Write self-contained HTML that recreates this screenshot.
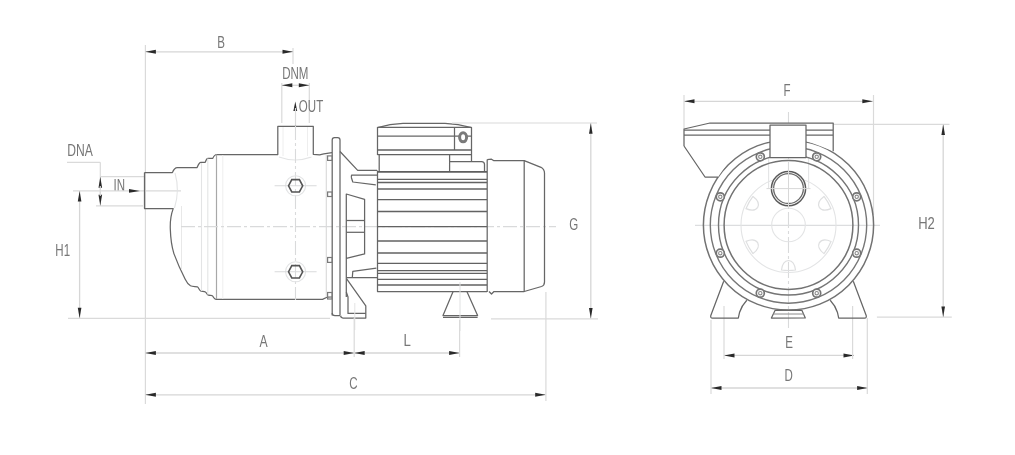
<!DOCTYPE html>
<html><head><meta charset="utf-8"><style>
html,body{margin:0;padding:0;background:#fff;width:1015px;height:455px;overflow:hidden}
svg{display:block}
text{font-family:"Liberation Sans",sans-serif}
</style></head><body>
<svg width="1015" height="455" viewBox="0 0 1015 455">
<rect width="1015" height="455" fill="#fff"/>
<g filter="url(#bl)">
<line x1="145.4" y1="45" x2="145.4" y2="404" stroke="#dadada" stroke-width="1.2" fill="none"/>
<line x1="145.4" y1="51.8" x2="293" y2="51.8" stroke="#d6d6d6" stroke-width="1.3" fill="none"/>
<line x1="293" y1="48" x2="293" y2="64" stroke="#dadada" stroke-width="1.2" fill="none"/>
<polygon points="145.4,51.8 155.9,49.8 155.9,53.8" fill="#2a2a2a"/>
<polygon points="293.0,51.8 282.5,49.8 282.5,53.8" fill="#2a2a2a"/>
<text x="0" y="0" transform="translate(221,47.5) scale(0.7,1)" font-size="16.5" fill="#777777" text-anchor="middle" font-family="&quot;Liberation Sans&quot;, sans-serif">B</text>
<text x="0" y="0" transform="translate(295.3,78.6) scale(0.7,1)" font-size="16.5" fill="#777777" text-anchor="middle" font-family="&quot;Liberation Sans&quot;, sans-serif">DNM</text>
<line x1="281.8" y1="83" x2="281.8" y2="123" stroke="#dadada" stroke-width="1.2" fill="none"/>
<line x1="309.3" y1="83" x2="309.3" y2="123" stroke="#dadada" stroke-width="1.2" fill="none"/>
<line x1="281.8" y1="85.3" x2="309.3" y2="85.3" stroke="#d6d6d6" stroke-width="1.3" fill="none"/>
<polygon points="281.8,85.3 292.3,83.3 292.3,87.3" fill="#2a2a2a"/>
<polygon points="309.3,85.3 298.8,83.3 298.8,87.3" fill="#2a2a2a"/>
<polygon points="295.3,101.5 293.4,111.0 297.2,111.0" fill="#2a2a2a"/>
<text x="0" y="0" transform="translate(311,112.4) scale(0.7,1)" font-size="16.5" fill="#777777" text-anchor="middle" font-family="&quot;Liberation Sans&quot;, sans-serif">OUT</text>
<line x1="295.5" y1="108" x2="295.5" y2="126" stroke="#dadada" stroke-width="1.2" fill="none"/>
<text x="0" y="0" transform="translate(80,156) scale(0.735,1)" font-size="16.5" fill="#777777" text-anchor="middle" font-family="&quot;Liberation Sans&quot;, sans-serif">DNA</text>
<line x1="67" y1="162.3" x2="100.3" y2="162.3" stroke="#dadada" stroke-width="1.2" fill="none"/>
<line x1="100.3" y1="162.3" x2="100.3" y2="206" stroke="#dadada" stroke-width="1.2" fill="none"/>
<line x1="100.3" y1="176.7" x2="145" y2="176.7" stroke="#dadada" stroke-width="1.2" fill="none"/>
<line x1="96" y1="205.8" x2="143" y2="205.8" stroke="#dadada" stroke-width="1.2" fill="none"/>
<polygon points="100.3,176.7 98.5,187.7 102.1,187.7" fill="#2a2a2a"/>
<polygon points="100.3,205.8 98.5,194.8 102.1,194.8" fill="#2a2a2a"/>
<line x1="100.3" y1="186" x2="100.3" y2="196" stroke="#dadada" stroke-width="1.2" fill="none"/>
<text x="0" y="0" transform="translate(119.2,190.6) scale(0.7,1)" font-size="16.5" fill="#777777" text-anchor="middle" font-family="&quot;Liberation Sans&quot;, sans-serif">IN</text>
<line x1="73" y1="190.9" x2="181" y2="190.9" stroke="#dadada" stroke-width="1.2" fill="none"/>
<polygon points="140.0,190.9 129.0,189.1 129.0,192.7" fill="#2a2a2a"/>
<line x1="79.6" y1="190.9" x2="79.6" y2="318.2" stroke="#d6d6d6" stroke-width="1.3" fill="none"/>
<polygon points="79.6,190.9 77.8,201.4 81.4,201.4" fill="#2a2a2a"/>
<polygon points="79.6,318.2 77.8,307.7 81.4,307.7" fill="#2a2a2a"/>
<text x="0" y="0" transform="translate(62.7,255.6) scale(0.7,1)" font-size="16.5" fill="#777777" text-anchor="middle" font-family="&quot;Liberation Sans&quot;, sans-serif">H1</text>
<line x1="68" y1="318.3" x2="330" y2="318.3" stroke="#dadada" stroke-width="1.2" fill="none"/>
<path d="M144.5,172.6 H172.4 Q174.2,167.5 177.4,167.5 H197.1 Q199.2,162.4 200.9,162.4 H205.2 Q206.5,158.4 208,158.4 H212.8 Q214.2,154.6 217,154.5 H277.8 V126.4 H313.3 V154.3 L319.6,154.9 L323.8,153.8 L332,152.6" stroke="#666666" stroke-width="1.25" fill="none" stroke-linejoin="round"/>
<path d="M144.5,172.6 V208.6 H173.2 C171.2,214 170,221 170.3,229 C170.6,238 171.5,246 173.9,253.6 C177,262 181,271 185.2,279.2 C186.8,282.5 188.5,284.6 190.5,285.8 C192.5,286.8 195.5,286.4 197.3,286.8 C198.8,287.5 199,290.3 200.6,291 C202,291.6 204,291.2 205.4,292 C206.8,292.8 207,294.8 208.5,295.2 C210,295.6 211.8,295.2 212.5,295.9 C213.6,297 214,299.3 216,299.4 H322.5 L327,297.2 L332,297" stroke="#666666" stroke-width="1.25" fill="none" stroke-linejoin="round"/>
<line x1="216.5" y1="154.5" x2="216.5" y2="299" stroke="#a8a8a8" stroke-width="1.2"/>
<line x1="201.5" y1="163" x2="201.5" y2="291" stroke="#e3e4e5" stroke-width="1.1" fill="none"/>
<line x1="207.8" y1="158.5" x2="207.8" y2="294.5" stroke="#e3e4e5" stroke-width="1.1" fill="none"/>
<line x1="222.8" y1="155" x2="222.8" y2="299" stroke="#eeeeee" stroke-width="1"/>
<line x1="181.5" y1="206" x2="181.5" y2="270" stroke="#e8e8e8" stroke-width="1"/>
<line x1="326.3" y1="155" x2="326.3" y2="297" stroke="#d8d8d8" stroke-width="1.1"/>
<path d="M175,173 Q180,190.5 174.5,208" stroke="#e3e4e5" stroke-width="1.1" fill="none"/>
<path d="M279,157 Q295.5,163 311.5,157" stroke="#e3e4e5" stroke-width="1.1" fill="none"/>
<line x1="283" y1="127" x2="283" y2="156" stroke="#eeeeee" stroke-width="1"/>
<line x1="307.5" y1="127" x2="307.5" y2="156" stroke="#eeeeee" stroke-width="1"/>
<line x1="181" y1="226.6" x2="556" y2="226.6" stroke="#d9dadb" stroke-width="1.1" fill="none" stroke-dasharray="14 3 3 3"/>
<line x1="295.5" y1="126" x2="295.5" y2="300" stroke="#d9dadb" stroke-width="1.1" fill="none" stroke-dasharray="14 3 3 3"/>
<circle cx="295.6" cy="185.8" r="10" stroke="#e3e4e5" stroke-width="1.1" fill="none"/>
<line x1="274.6" y1="185.8" x2="316.6" y2="185.8" stroke="#d9dadb" stroke-width="1.1"/>
<polygon points="288.5,185.8 291.8,179.6 299.4,179.6 302.7,185.8 299.4,192.0 291.8,192.0" stroke="#555" stroke-width="1.6" fill="none"/>
<circle cx="295.6" cy="271.8" r="10" stroke="#e3e4e5" stroke-width="1.1" fill="none"/>
<line x1="274.6" y1="271.8" x2="316.6" y2="271.8" stroke="#d9dadb" stroke-width="1.1"/>
<polygon points="288.5,271.8 291.8,265.6 299.4,265.6 302.7,271.8 299.4,278.0 291.8,278.0" stroke="#555" stroke-width="1.6" fill="none"/>
<path d="M332.2,315.6 V140 Q332.2,137.7 334.5,137.7 H337.7 Q340,137.7 340,140 V315" stroke="#666666" stroke-width="1.25" fill="none" stroke-linejoin="round"/>
<path d="M332.2,313 Q332.2,315.6 335,315.6 H340" stroke="#666666" stroke-width="1.25" fill="none" stroke-linejoin="round"/>
<rect x="327.6" y="155.9" width="4.6" height="4.5" stroke="#7a7a7a" stroke-width="1.2" fill="none"/>
<rect x="327.6" y="192" width="4.6" height="4.5" stroke="#7a7a7a" stroke-width="1.2" fill="none"/>
<rect x="327.6" y="257.5" width="4.6" height="4.899999999999977" stroke="#7a7a7a" stroke-width="1.2" fill="none"/>
<rect x="327.6" y="292.5" width="4.6" height="6.5" stroke="#7a7a7a" stroke-width="1.2" fill="none"/>
<path d="M340,151.5 L357.7,170.4 H377" stroke="#666666" stroke-width="1.25" fill="none" stroke-linejoin="round"/>
<path d="M377,175 H351.8 Q351,176 351.5,178 L352.8,182 L375.8,184.8" stroke="#666666" stroke-width="1.25" fill="none" stroke-linejoin="round"/>
<path d="M346.3,296.9 V194 L364.6,199.3 V253.9 L346.3,258.3" stroke="#666666" stroke-width="1.25" fill="none" stroke-linejoin="round"/>
<line x1="346.3" y1="220.5" x2="364.6" y2="220.5" stroke="#666666" stroke-width="1.25" fill="none" stroke-linejoin="round"/>
<line x1="346.3" y1="232.3" x2="364.6" y2="232.3" stroke="#666666" stroke-width="1.25" fill="none" stroke-linejoin="round"/>
<path d="M346.3,277.5 H377 M352.3,277.5 L352.8,271.4 L376.4,268.1" stroke="#666666" stroke-width="1.25" fill="none" stroke-linejoin="round"/>
<path d="M346.5,278.7 L365.8,305.8 V318 H343 Q340.6,318 340.6,315.6" stroke="#666666" stroke-width="1.25" fill="none" stroke-linejoin="round"/>
<path d="M346.3,292 L348,297 V313.4 H365.8" stroke="#666666" stroke-width="1.25" fill="none" stroke-linejoin="round"/>
<line x1="354.8" y1="303" x2="354.8" y2="330" stroke="#e4e4e4" stroke-width="1"/>
<path d="M377.5,127.6 Q390,124 403,123.4 H445 Q458,124 471.5,127.6 V161.2" stroke="#666666" stroke-width="1.25" fill="none" stroke-linejoin="round"/>
<line x1="377.5" y1="127.3" x2="471.5" y2="127.3" stroke="#666666" stroke-width="1.25" fill="none" stroke-linejoin="round"/>
<line x1="377.5" y1="136.2" x2="471.5" y2="136.2" stroke="#666666" stroke-width="1.25" fill="none" stroke-linejoin="round"/>
<line x1="377.5" y1="127" x2="377.5" y2="155" stroke="#666666" stroke-width="1.25" fill="none" stroke-linejoin="round"/>
<line x1="454.5" y1="127.3" x2="454.5" y2="150" stroke="#666666" stroke-width="1.25" fill="none" stroke-linejoin="round"/>
<line x1="377.5" y1="150" x2="471.5" y2="150" stroke="#626262" stroke-width="1.3" fill="none"/>
<line x1="377.5" y1="154.6" x2="471.5" y2="154.6" stroke="#626262" stroke-width="1.3" fill="none"/>
<path d="M379.2,155 V171 M449.6,155 V171 M449.6,161.5 H481.5 Q484.5,161.5 484.5,164.5 V171.5" stroke="#666666" stroke-width="1.25" fill="none" stroke-linejoin="round"/>
<ellipse cx="463.1" cy="137.3" rx="3.5" ry="4.5" stroke="#7a7a7a" stroke-width="3" fill="#fff"/>
<path d="M377.5,170.4 V291.6 H487" stroke="#666666" stroke-width="1.25" fill="none" stroke-linejoin="round"/>
<line x1="377.5" y1="171.9" x2="487" y2="171.9" stroke="#5e5e5e" stroke-width="1.9"/>
<line x1="377.5" y1="179.4" x2="487" y2="179.4" stroke="#626262" stroke-width="1.3" fill="none"/>
<line x1="377.5" y1="182.5" x2="487" y2="182.5" stroke="#626262" stroke-width="1.3" fill="none"/>
<line x1="377.5" y1="189" x2="487" y2="189" stroke="#626262" stroke-width="1.3" fill="none"/>
<line x1="377.5" y1="199.6" x2="487" y2="199.6" stroke="#626262" stroke-width="1.3" fill="none"/>
<line x1="377.5" y1="211.5" x2="487" y2="211.5" stroke="#626262" stroke-width="1.3" fill="none"/>
<line x1="377.5" y1="226.7" x2="487" y2="226.7" stroke="#626262" stroke-width="1.3" fill="none"/>
<line x1="377.5" y1="241" x2="487" y2="241" stroke="#626262" stroke-width="1.3" fill="none"/>
<line x1="377.5" y1="253" x2="487" y2="253" stroke="#626262" stroke-width="1.3" fill="none"/>
<line x1="377.5" y1="263.4" x2="487" y2="263.4" stroke="#626262" stroke-width="1.3" fill="none"/>
<line x1="377.5" y1="270.6" x2="487" y2="270.6" stroke="#626262" stroke-width="1.3" fill="none"/>
<line x1="377.5" y1="273.4" x2="487" y2="273.4" stroke="#626262" stroke-width="1.3" fill="none"/>
<line x1="377.5" y1="279.4" x2="487" y2="279.4" stroke="#626262" stroke-width="1.3" fill="none"/>
<line x1="377.5" y1="285" x2="487" y2="285" stroke="#626262" stroke-width="1.3" fill="none"/>
<line x1="487.2" y1="159.5" x2="487.2" y2="292" stroke="#666666" stroke-width="1.25" fill="none" stroke-linejoin="round"/>
<path d="M487.2,159.6 L491.5,159.2 L493.5,160.6 H524.2 L541,167.3 Q544.5,169.5 544.5,173 V282 Q544.5,285.5 541.5,286.5 L524.2,291.5 H494 L491.5,294 L489,291.5" stroke="#666666" stroke-width="1.25" fill="none" stroke-linejoin="round"/>
<line x1="524.2" y1="160.6" x2="524.2" y2="291.5" stroke="#666666" stroke-width="1.25" fill="none" stroke-linejoin="round"/>
<path d="M453,291.8 L443,315.6 H477.6 L467,291.8" stroke="#666666" stroke-width="1.25" fill="none" stroke-linejoin="round"/>
<line x1="443" y1="317.3" x2="477.6" y2="317.3" stroke="#666666" stroke-width="1.25" fill="none" stroke-linejoin="round"/>
<line x1="460" y1="282" x2="460" y2="331" stroke="#e0e1e2" stroke-width="1"/>
<line x1="452" y1="123.0" x2="597" y2="123.0" stroke="#dadada" stroke-width="1.2" fill="none"/>
<line x1="491" y1="318.8" x2="598" y2="318.8" stroke="#dadada" stroke-width="1.2" fill="none"/>
<line x1="590.8" y1="123" x2="590.8" y2="318.6" stroke="#d6d6d6" stroke-width="1.3" fill="none"/>
<polygon points="590.8,123.2 589.0,133.7 592.6,133.7" fill="#2a2a2a"/>
<polygon points="590.8,318.6 589.0,308.1 592.6,308.1" fill="#2a2a2a"/>
<text x="0" y="0" transform="translate(573.8,230) scale(0.7,1)" font-size="16.5" fill="#777777" text-anchor="middle" font-family="&quot;Liberation Sans&quot;, sans-serif">G</text>
<line x1="145.4" y1="353.0" x2="459.6" y2="353.0" stroke="#d6d6d6" stroke-width="1.3" fill="none"/>
<polygon points="145.4,353.0 155.9,351.0 155.9,355.0" fill="#2a2a2a"/>
<polygon points="354.2,353.0 343.7,351.0 343.7,355.0" fill="#2a2a2a"/>
<polygon points="354.2,353.0 364.7,351.0 364.7,355.0" fill="#2a2a2a"/>
<polygon points="459.6,353.0 449.1,351.0 449.1,355.0" fill="#2a2a2a"/>
<line x1="354.2" y1="318" x2="354.2" y2="357" stroke="#dadada" stroke-width="1.2" fill="none"/>
<line x1="459.6" y1="320" x2="459.6" y2="357" stroke="#dadada" stroke-width="1.2" fill="none"/>
<text x="0" y="0" transform="translate(263.6,346.7) scale(0.74,1)" font-size="16.5" fill="#777777" text-anchor="middle" font-family="&quot;Liberation Sans&quot;, sans-serif">A</text>
<text x="0" y="0" transform="translate(407.2,345.6) scale(0.8,1)" font-size="16.5" fill="#777777" text-anchor="middle" font-family="&quot;Liberation Sans&quot;, sans-serif">L</text>
<line x1="145.4" y1="394.8" x2="545.7" y2="394.8" stroke="#d6d6d6" stroke-width="1.3" fill="none"/>
<polygon points="145.4,394.8 155.9,392.8 155.9,396.8" fill="#2a2a2a"/>
<polygon points="545.7,394.8 535.2,392.8 535.2,396.8" fill="#2a2a2a"/>
<line x1="545.9" y1="292" x2="545.9" y2="401" stroke="#dadada" stroke-width="1.2" fill="none"/>
<text x="0" y="0" transform="translate(353.4,389.2) scale(0.7,1)" font-size="16.5" fill="#777777" text-anchor="middle" font-family="&quot;Liberation Sans&quot;, sans-serif">C</text>
<line x1="684" y1="101.3" x2="872.8" y2="101.3" stroke="#d6d6d6" stroke-width="1.3" fill="none"/>
<polygon points="684.0,101.3 694.5,99.3 694.5,103.3" fill="#2a2a2a"/>
<polygon points="872.8,101.3 862.3,99.3 862.3,103.3" fill="#2a2a2a"/>
<line x1="684" y1="95" x2="684" y2="129" stroke="#dadada" stroke-width="1.2" fill="none"/>
<line x1="873.5" y1="95" x2="873.5" y2="215" stroke="#dadada" stroke-width="1.2" fill="none"/>
<text x="0" y="0" transform="translate(787,95.6) scale(0.7,1)" font-size="16.5" fill="#777777" text-anchor="middle" font-family="&quot;Liberation Sans&quot;, sans-serif">F</text>
<line x1="833" y1="124.3" x2="949.5" y2="124.3" stroke="#dadada" stroke-width="1.2" fill="none"/>
<line x1="876.9" y1="317.1" x2="951.8" y2="317.1" stroke="#dadada" stroke-width="1.2" fill="none"/>
<line x1="943.2" y1="124.5" x2="943.2" y2="317" stroke="#d6d6d6" stroke-width="1.3" fill="none"/>
<polygon points="943.2,124.5 941.4,135.0 945.0,135.0" fill="#2a2a2a"/>
<polygon points="943.2,317.0 941.4,306.5 945.0,306.5" fill="#2a2a2a"/>
<text x="0" y="0" transform="translate(926.5,228.7) scale(0.79,1)" font-size="16.5" fill="#777777" text-anchor="middle" font-family="&quot;Liberation Sans&quot;, sans-serif">H2</text>
<line x1="724" y1="355.4" x2="854" y2="355.4" stroke="#d6d6d6" stroke-width="1.3" fill="none"/>
<polygon points="724.0,355.4 734.5,353.4 734.5,357.4" fill="#2a2a2a"/>
<polygon points="854.0,355.4 843.5,353.4 843.5,357.4" fill="#2a2a2a"/>
<line x1="724" y1="306" x2="724" y2="359" stroke="#dadada" stroke-width="1.2" fill="none"/>
<line x1="852.6" y1="306" x2="852.6" y2="359" stroke="#dadada" stroke-width="1.2" fill="none"/>
<text x="0" y="0" transform="translate(789,348) scale(0.7,1)" font-size="16.5" fill="#777777" text-anchor="middle" font-family="&quot;Liberation Sans&quot;, sans-serif">E</text>
<line x1="711" y1="388" x2="867.6" y2="388" stroke="#d6d6d6" stroke-width="1.3" fill="none"/>
<polygon points="711.0,388.0 721.5,386.0 721.5,390.0" fill="#2a2a2a"/>
<polygon points="867.6,388.0 857.1,386.0 857.1,390.0" fill="#2a2a2a"/>
<line x1="711" y1="320" x2="711" y2="394" stroke="#dadada" stroke-width="1.2" fill="none"/>
<line x1="867.3" y1="318" x2="867.3" y2="394" stroke="#dadada" stroke-width="1.2" fill="none"/>
<text x="0" y="0" transform="translate(788.7,381.2) scale(0.7,1)" font-size="16.5" fill="#777777" text-anchor="middle" font-family="&quot;Liberation Sans&quot;, sans-serif">D</text>
<line x1="788.5" y1="112" x2="788.5" y2="330" stroke="#d9dadb" stroke-width="1.1" stroke-dasharray="16 3 3 3"/>
<line x1="695" y1="225.4" x2="880" y2="225.4" stroke="#dcdddf" stroke-width="1.2"/>
<circle cx="788.5" cy="225.0" r="47.5" stroke="#e3e4e5" stroke-width="1.1" fill="none"/>
<circle cx="788.5" cy="225.0" r="16.8" stroke="#e3e4e5" stroke-width="1.1" fill="none"/>
<line x1="768.6" y1="157" x2="768.6" y2="188" stroke="#e3e4e5" stroke-width="1.1" fill="none"/>
<line x1="808.6" y1="157" x2="808.6" y2="188" stroke="#e3e4e5" stroke-width="1.1" fill="none"/>
<path transform="translate(753.4,204.8) rotate(-60)" d="M-7,-4.5 Q0,-5.5 7,-4.5 Q6,4.5 0,5 Q-6,4.5 -7,-4.5 Z" stroke="#dedfe0" stroke-width="1.2" fill="none"/>
<path transform="translate(823.6,204.8) rotate(60)" d="M-7,-4.5 Q0,-5.5 7,-4.5 Q6,4.5 0,5 Q-6,4.5 -7,-4.5 Z" stroke="#dedfe0" stroke-width="1.2" fill="none"/>
<path transform="translate(753.4,245.2) rotate(-120)" d="M-7,-4.5 Q0,-5.5 7,-4.5 Q6,4.5 0,5 Q-6,4.5 -7,-4.5 Z" stroke="#dedfe0" stroke-width="1.2" fill="none"/>
<path transform="translate(823.6,245.3) rotate(-240)" d="M-7,-4.5 Q0,-5.5 7,-4.5 Q6,4.5 0,5 Q-6,4.5 -7,-4.5 Z" stroke="#dedfe0" stroke-width="1.2" fill="none"/>
<path transform="translate(788.5,265.5) rotate(-180)" d="M-7,-4.5 Q0,-5.5 7,-4.5 Q6,4.5 0,5 Q-6,4.5 -7,-4.5 Z" stroke="#dedfe0" stroke-width="1.2" fill="none"/>
<path d="M723.7,281.2 L710.8,315.5 Q710.2,318.2 712.5,318.2 H738.3 L739.6,312.2 Q741.5,306 746.8,300.3" stroke="#666666" stroke-width="1.25" fill="none" stroke-linejoin="round"/>
<path d="M853.3,281.2 L866.2,315.5 Q866.8,318.2 864.5,318.2 H838.7 L837.4,312.2 Q835.5,306 830.2,300.3" stroke="#666666" stroke-width="1.25" fill="none" stroke-linejoin="round"/>
<path d="M771.4,318.1 L775,310.4 H802 L805.3,317.9 Z" stroke="#666666" stroke-width="1.25" fill="none" stroke-linejoin="round"/>
<line x1="773" y1="314" x2="804" y2="314" stroke="#8a8a8a" stroke-width="1"/>
<circle cx="788.5" cy="225.0" r="85.1" stroke="#727272" stroke-width="1.5" fill="none"/>
<circle cx="788.5" cy="225.0" r="78.2" stroke="#767676" stroke-width="1.4" fill="none"/>
<circle cx="788.5" cy="225.0" r="70" stroke="#747474" stroke-width="1.4" fill="none"/>
<circle cx="788.5" cy="225.0" r="64.4" stroke="#727272" stroke-width="1.5" fill="none"/>
<path d="M684,129 L710,123 H833.2 V151.3 L820,146 Q800,138 788.5,139.5 Q760,140 735,152 L718,177 H705 L684,146 Z" fill="#ffffff" stroke="none"/>
<path d="M684,146 V129 L710,123 H833.2 V151.3" stroke="#666666" stroke-width="1.25" fill="none" stroke-linejoin="round"/>
<path d="M684,146 L705,177 H718" stroke="#666666" stroke-width="1.25" fill="none" stroke-linejoin="round"/>
<line x1="684" y1="130" x2="833" y2="130" stroke="#666666" stroke-width="1.25" fill="none" stroke-linejoin="round"/>
<line x1="684" y1="135.2" x2="833" y2="135.2" stroke="#666666" stroke-width="1.25" fill="none" stroke-linejoin="round"/>
<rect x="770" y="125" width="36" height="32.6" fill="#ffffff" stroke="#666666" stroke-width="1.25" fill="none" stroke-linejoin="round"/>
<circle cx="788.5" cy="188.6" r="17.1" stroke="#5a5a5a" stroke-width="1.5" fill="#fff"/>
<circle cx="788.5" cy="188.6" r="14.9" stroke="#6a6a6a" stroke-width="1.3" fill="none"/>
<line x1="766.5" y1="188.6" x2="810.5" y2="188.6" stroke="#d8d8d8" stroke-width="1"/>
<line x1="788.5" y1="168" x2="788.5" y2="209" stroke="#d8d8d8" stroke-width="1"/>
<circle cx="856.7" cy="196.8" r="4.0" stroke="#747474" stroke-width="1.7" fill="#fff"/>
<circle cx="856.7" cy="196.8" r="1.7" stroke="#8a8a8a" stroke-width="1.1" fill="none"/>
<circle cx="816.7" cy="156.8" r="4.0" stroke="#747474" stroke-width="1.7" fill="#fff"/>
<circle cx="816.7" cy="156.8" r="1.7" stroke="#8a8a8a" stroke-width="1.1" fill="none"/>
<circle cx="760.3" cy="156.8" r="4.0" stroke="#747474" stroke-width="1.7" fill="#fff"/>
<circle cx="760.3" cy="156.8" r="1.7" stroke="#8a8a8a" stroke-width="1.1" fill="none"/>
<circle cx="720.3" cy="196.8" r="4.0" stroke="#747474" stroke-width="1.7" fill="#fff"/>
<circle cx="720.3" cy="196.8" r="1.7" stroke="#8a8a8a" stroke-width="1.1" fill="none"/>
<circle cx="720.3" cy="253.2" r="4.0" stroke="#747474" stroke-width="1.7" fill="#fff"/>
<circle cx="720.3" cy="253.2" r="1.7" stroke="#8a8a8a" stroke-width="1.1" fill="none"/>
<circle cx="760.3" cy="293.2" r="4.0" stroke="#747474" stroke-width="1.7" fill="#fff"/>
<circle cx="760.3" cy="293.2" r="1.7" stroke="#8a8a8a" stroke-width="1.1" fill="none"/>
<circle cx="816.7" cy="293.2" r="4.0" stroke="#747474" stroke-width="1.7" fill="#fff"/>
<circle cx="816.7" cy="293.2" r="1.7" stroke="#8a8a8a" stroke-width="1.1" fill="none"/>
<circle cx="856.7" cy="253.2" r="4.0" stroke="#747474" stroke-width="1.7" fill="#fff"/>
<circle cx="856.7" cy="253.2" r="1.7" stroke="#8a8a8a" stroke-width="1.1" fill="none"/>
</g>
<defs><filter id="bl" x="0" y="0" width="1015" height="455" filterUnits="userSpaceOnUse"><feGaussianBlur stdDeviation="0.35"/></filter></defs>
</svg>
</body></html>
